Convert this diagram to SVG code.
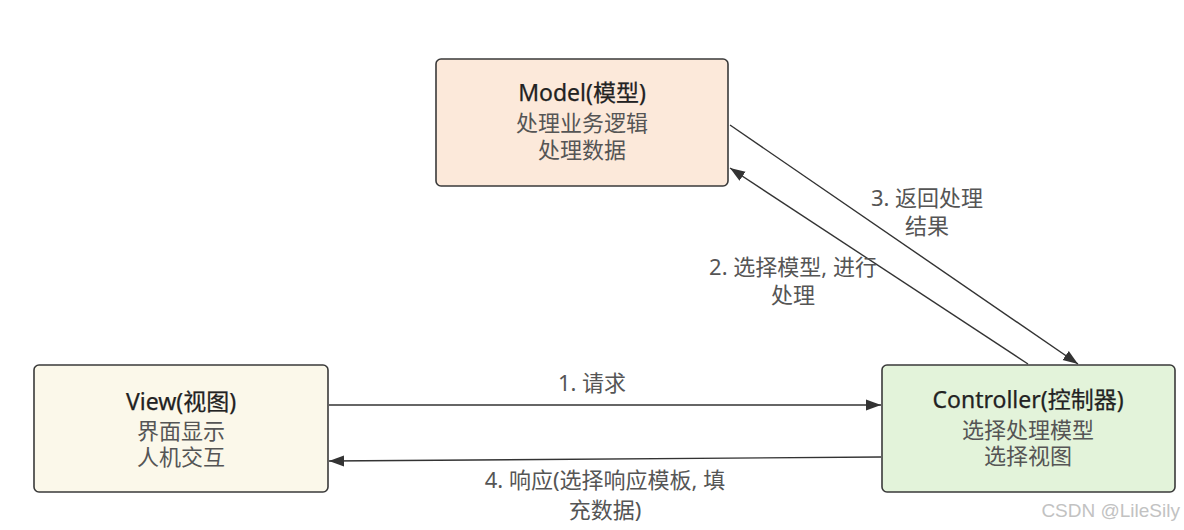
<svg xmlns="http://www.w3.org/2000/svg" width="1184" height="530" viewBox="0 0 1184 530">
<style>
.box{stroke:#3a3a3a;stroke-width:1.6}
.t{font-family:"Noto Sans","Noto Sans CJK SC",sans-serif;font-size:22px;text-anchor:middle}
.title{fill:#222;font-size:23px;stroke:#222;stroke-width:0.25}
.body{fill:#555}
.lbl{font-family:"Noto Sans","Noto Sans CJK SC",sans-serif;font-size:22px;text-anchor:middle;fill:#555}
.edge{stroke:#333;stroke-width:1.4;fill:none;marker-end:url(#ah)}
.wm{font-family:"Liberation Sans","Noto Sans CJK SC",sans-serif;font-size:19px;fill:#c2c2c2}
</style>
<defs>
<marker id="ah" viewBox="0 0 15 12" refX="15" refY="6" markerWidth="15" markerHeight="12" markerUnits="userSpaceOnUse" orient="auto">
<path d="M0,0.5 L15,6 L0,11.5 Z" fill="#333"/>
</marker>
</defs>
<rect width="1184" height="530" fill="#fff"/>
<g id="model">
<rect class="box" x="436" y="59" width="292" height="127" rx="5" fill="#fce9da"/>
<text class="t title" x="582" y="101">Model(模型)</text>
<text class="t body" x="582" y="131">处理业务逻辑</text>
<text class="t body" x="582" y="158">处理数据</text>
</g>
<g id="view">
<rect class="box" x="34" y="365" width="294" height="127" rx="5" fill="#fbf8ea"/>
<text class="t title" x="181" y="410">View(视图)</text>
<text class="t body" x="181" y="439">界面显示</text>
<text class="t body" x="181" y="465">人机交互</text>
</g>
<g id="controller">
<rect class="box" x="882" y="365" width="293" height="127" rx="5" fill="#e3f3da"/>
<text class="t title" x="1028" y="408">Controller(控制器)</text>
<text class="t body" x="1028" y="438">选择处理模型</text>
<text class="t body" x="1028" y="464">选择视图</text>
</g>
<g id="connectors">
<line class="edge" x1="329" y1="405" x2="881" y2="405"/>
<line class="edge" x1="1028" y1="364" x2="730" y2="168"/>
<line class="edge" x1="730" y1="125" x2="1078" y2="364"/>
<line class="edge" x1="881" y1="457" x2="329" y2="461"/>
<text class="lbl" x="592" y="391">1. 请求</text>
<text class="lbl" x="793" y="275">2. 选择模型, 进行</text>
<text class="lbl" x="793" y="303">处理</text>
<text class="lbl" x="927" y="206">3. 返回处理</text>
<text class="lbl" x="927" y="234">结果</text>
<text class="lbl" x="605" y="488">4. 响应(选择响应模板, 填</text>
<text class="lbl" x="605" y="518">充数据)</text>
</g>
<text class="wm" x="1180" y="517" text-anchor="end">CSDN @LileSily</text>
</svg>
